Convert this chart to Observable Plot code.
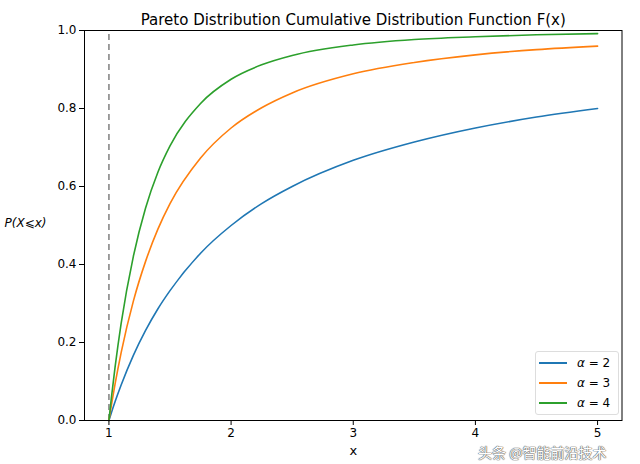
<!DOCTYPE html>
<html><head><meta charset="utf-8">
<script src="https://cdn.jsdelivr.net/npm/d3@7"></script>
<script src="https://cdn.jsdelivr.net/npm/@observablehq/plot@0.6"></script>
<style>
body{margin:0;background:#fff;font-family:"DejaVu Sans",sans-serif;}
#wrap{position:relative;width:640px;height:464px;}
#legend{position:absolute;left:535px;top:351px;width:82px;height:62px;border:1px solid #ddd;border-radius:3px;background:rgba(255,255,255,0.85);font-size:12px;}
#legend div.row{position:absolute;left:3px;height:20px;display:flex;align-items:center;}
#legend div.sw{width:28px;height:2px;margin-right:10px;}
#wm{position:absolute;left:478px;top:443px;line-height:18px;font-family:"Noto Sans CJK SC",sans-serif;font-size:14px;color:#fff;text-shadow:0 0 1px #555,0 0 1px #555,0 0 1px #555;}
</style></head>
<body><div id="wrap"></div>
<script>
const xs = [1, 1.02, 1.05, 1.1, 1.2, 1.3, 1.4, 1.5, 1.75, 2, 2.25, 2.5, 3, 3.5, 4, 4.5, 5];
const alpha2 = [0, 0.02, 0.048, 0.091, 0.167, 0.231, 0.286, 0.333, 0.429, 0.5, 0.556, 0.6, 0.667, 0.714, 0.75, 0.778, 0.8];
const alpha3 = [0, 0.039, 0.093, 0.174, 0.306, 0.408, 0.49, 0.556, 0.673, 0.75, 0.802, 0.84, 0.889, 0.918, 0.9375, 0.951, 0.96];
const alpha4 = [0, 0.058, 0.136, 0.249, 0.421, 0.545, 0.636, 0.704, 0.813, 0.875, 0.912, 0.936, 0.963, 0.977, 0.984, 0.989, 0.992];
const seriesNames = ["α = 2", "α = 3", "α = 4"];
const colors = ["#1f77b4", "#ff7f0e", "#2ca02c"];
const xTicks = [1, 2, 3, 4, 5];
const yTicks = [0, 0.2, 0.4, 0.6, 0.8, 1.0];
const vlineX = [1];

const rows = [];
[alpha2, alpha3, alpha4].forEach((arr, i) => arr.forEach((v, j) => rows.push({x: xs[j], y: v, s: seriesNames[i]})));

const chart = Plot.plot({
  width: 640, height: 464,
  marginLeft: 84, marginRight: 18.5, marginTop: 30, marginBottom: 44,
  style: {fontFamily: "DejaVu Sans", fontSize: "12px", color: "#000", background: "#fff"},
  x: {domain: [0.8, 5.2]},
  y: {domain: [0, 1]},
  color: {domain: seriesNames, range: colors},
  marks: [
    Plot.ruleX(vlineX, {y1: 0, y2: 1, stroke: "#808080", strokeDasharray: "6,4", strokeWidth: 1.5}),
    Plot.line(rows, {x: "x", y: "y", z: "s", stroke: "s", strokeWidth: 1.6, curve: "monotone-x"}),
    Plot.frame({stroke: "#000", strokeWidth: 1}),
    Plot.axisX(xTicks, {tickSize: 5, tickPadding: 3, tickFormat: d => String(d), label: null, fontSize: 12}),
    Plot.axisY(yTicks, {tickSize: 5, tickPadding: 3, tickFormat: d3.format(".1f"), label: null, fontSize: 12}),
    Plot.text(["x"], {frameAnchor: "bottom", dy: 34, fontSize: 13}),
    Plot.text(["Pareto Distribution Cumulative Distribution Function F(x)"], {frameAnchor: "top", dy: -16, fontSize: 15}),
    Plot.text(["P(X⩽x)"], {frameAnchor: "left", dx: -80, textAnchor: "start", fontStyle: "italic", fontSize: 12, dy: -2})
  ]
});
const wrap = document.getElementById("wrap");
wrap.appendChild(chart);
const leg = document.createElement("div");
leg.id = "legend";
seriesNames.forEach((n, i) => {
  const d = document.createElement("div");
  d.className = "row";
  d.style.top = (1 + i * 20) + "px";
  d.innerHTML = `<div class="sw" style="background:${colors[i]}"></div><span style="font-style:italic">α</span>&nbsp;= ${n.split("= ")[1]}`;
  leg.appendChild(d);
});
wrap.appendChild(leg);
const wm = document.createElement("div");
wm.id = "wm"; wm.textContent = "头条 @智能前沿技术";
wrap.appendChild(wm);
</script></body></html>
